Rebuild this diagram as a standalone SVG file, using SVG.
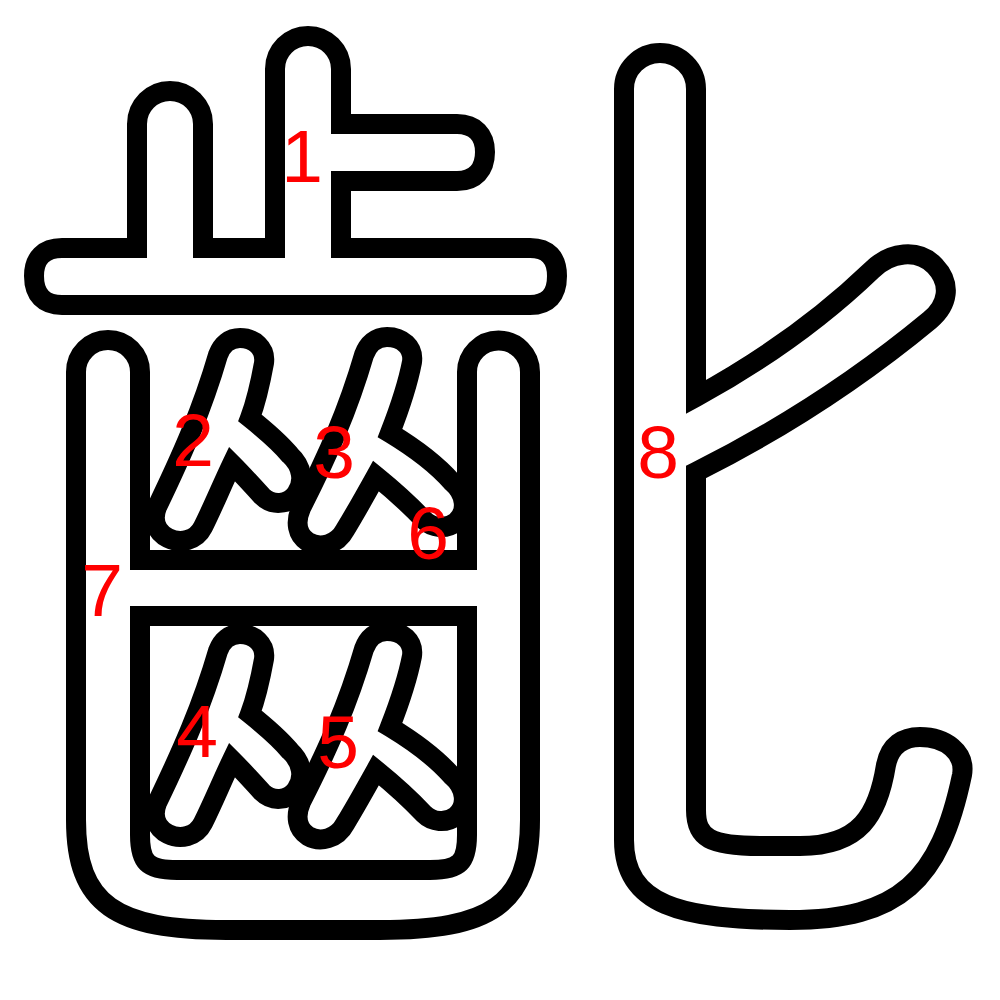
<svg xmlns="http://www.w3.org/2000/svg" width="1000" height="1000" viewBox="0 0 1000 1000">
<style>
.s{fill:#fff;stroke:#000;stroke-width:20;stroke-linejoin:miter;stroke-miterlimit:4;fill-rule:evenodd}
.n{fill:#f00;font-family:"Liberation Sans",Arial,sans-serif;font-size:75px;text-anchor:middle}
</style>
<rect width="1000" height="1000" fill="#fff"/>
<defs>
<path id="renA" d="M 240 338 C 254 338 266 348 264 363 C 260 385 256 402 250 418 C 265 430 280 443 290 455 C 302 466 305 482 296 494 C 288 505 272 506 262 496 C 252 485 242 474 232 464 C 222 485 213 507 203 527 C 196 541 180 544 168 538 C 156 532 152 520 157 507 C 182 455 202 410 218 355 C 222 344 230 338 240 338 Z"/>
<path id="renB" d="M 387 337 C 402 337 414 347 412 362 C 407 388 399 410 390 433 C 418 450 438 466 452 482 C 466 494 468 512 456 522 C 446 530 432 528 424 520 C 408 503 392 489 376 476 C 366 494 356 512 345 530 C 337 545 320 549 308 542 C 297 535 295 522 301 508 C 328 455 348 410 364 355 C 368 344 376 337 387 337 Z"/>
</defs>
<g id="stroke1">
<path class="s" d="M 62 248 L 137 248 L 137 124 A 33 33 0 0 1 203 124 L 203 248 L 275 248 L 275 69 A 33 33 0 0 1 341 69 L 341 124 L 457 124 C 475 124 485 135 485 152 C 485 170 475 181 457 181 L 341 181 L 341 248 L 530 248 C 548 248 557 258 557 276 C 557 295 548 305 530 305 L 62 305 C 44 305 34 295 34 276 C 34 258 44 248 62 248 Z"/>
</g>
<g id="stroke2"><use href="#renA" class="s"/></g>
<g id="stroke3"><use href="#renB" class="s"/></g>
<g id="stroke4"><use href="#renA" class="s" transform="translate(0,296)"/></g>
<g id="stroke5"><use href="#renB" class="s" transform="translate(0,294)"/></g>
<g id="stroke7">
<path class="s" d="M 76 372 A 32 32 0 0 1 140 372 L 140 560 L 467 560 L 467 372 A 31.5 31.5 0 0 1 530 372 L 530 820 C 530 905 490 930 380 930 L 226 930 C 116 930 76 905 76 820 Z M 140 616 L 467 616 L 467 835 C 467 862 460 870 430 870 L 177 870 C 147 870 140 862 140 835 Z"/>
</g>
<g id="stroke8">
<path class="s" d="M 624 89 A 36 36 0 0 1 696 89 L 696 397 C 760 362 820 320 872 270 C 890 252 918 248 935 266 C 952 284 948 305 930 320 C 860 378 780 430 696 472 L 696 810 C 696 838 710 846 760 846 L 800 846 C 860 846 878 815 886 765 C 890 745 903 737 920 737 C 945 737 966 752 962 775 C 940 880 900 920 790 920 C 680 920 624 905 624 840 Z"/>
</g>
<g id="labels">
<text class="n" x="302" y="182">1</text>
<text class="n" x="193" y="466">2</text>
<text class="n" x="334" y="478">3</text>
<text class="n" x="197" y="757">4</text>
<text class="n" x="338" y="768">5</text>
<text class="n" x="428" y="559">6</text>
<text class="n" x="102" y="616">7</text>
<text class="n" x="658" y="478">8</text>
</g>
</svg>
